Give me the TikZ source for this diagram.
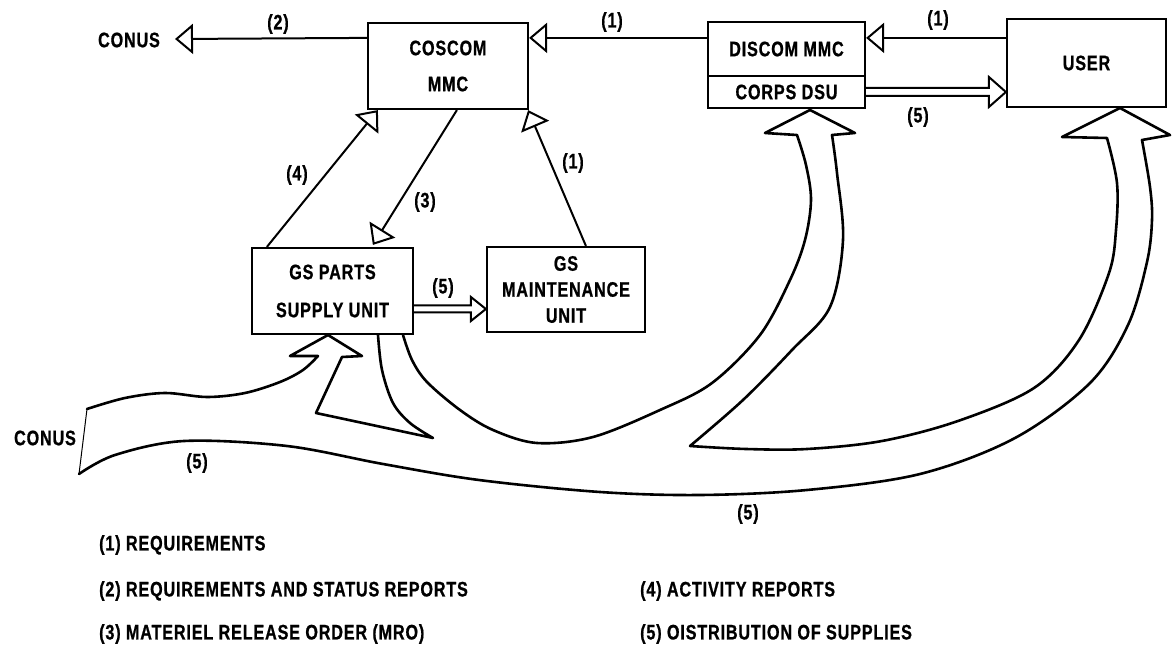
\documentclass[tikz,border=0pt]{standalone}
\usepackage{fontspec}
\newfontfamily\lbf{Liberation Sans}[FakeStretch=0.77, FakeBold=0.8, LetterSpace=4]
\usetikzlibrary{arrows.meta,calc}
\tikzset{
  txt/.style={font=\lbf\bfseries\fontsize{21}{22}\selectfont, inner sep=0pt},
  box/.style={draw, line width=2.2pt, inner sep=0pt, align=center, font=\lbf\bfseries\fontsize{21}{22}\selectfont},
  conn/.style={line width=2pt, -{Triangle[open, length=18pt, width=30pt, line width=2pt]}},
  hollow/.style={line width=2pt, line join=miter},
  band/.style={line width=2.6pt, line join=round, line cap=round},
}
\begin{document}
\begin{tikzpicture}[x=1pt,y=-1pt]
\useasboundingbox (0,0) rectangle (1173,652);
% boxes
\node[box, minimum width=160pt, minimum height=86pt] (coscom) at (448,66) {COSCOM\\[14pt]MMC};
\node[box, minimum width=157pt, minimum height=54pt] (discom) at (786.5,49) {DISCOM MMC};
\node[box, minimum width=157pt, minimum height=32pt] (corps) at (786.5,92) {CORPS DSU};
\node[box, minimum width=159pt, minimum height=88pt] (user) at (1086.5,63) {USER};
\node[box, minimum width=161pt, minimum height=86pt] (gsparts) at (332.5,291) {GS PARTS\\[16pt]SUPPLY UNIT};
\node[box, minimum width=158pt, minimum height=85pt] (gsmaint) at (566,289.5) {GS\\[4pt]MAINTENANCE\\[4pt]UNIT};
% texts
\node[txt] (conus1) at (129,40) {CONUS};
\node[txt] (conus2) at (45,438) {CONUS};
\coordinate (conustip) at (175,39);
\node[txt] (l2) at (278,24) {(2)};
\node[txt] (l1a) at (612,22) {(1)};
\node[txt] (l1b) at (938,20) {(1)};
\node[txt] (l5a) at (918,117) {(5)};
\node[txt] (l4) at (297,175) {(4)};
\node[txt] (l3) at (425,202) {(3)};
\node[txt] (l1c) at (573,163) {(1)};
\node[txt] (l5b) at (443,288) {(5)};
\node[txt] (l5c) at (197,463) {(5)};
\node[txt] (l5d) at (748,514) {(5)};
% legend
\node[txt, anchor=west] (g1) at (99,545) {(1) REQUIREMENTS};
\node[txt, anchor=west] (g2) at (99,591) {(2) REQUIREMENTS AND STATUS REPORTS};
\node[txt, anchor=west] (g3) at (99,634) {(3) MATERIEL RELEASE ORDER (MRO)};
\node[txt, anchor=west] (g4) at (640,591) {(4) ACTIVITY REPORTS};
\node[txt, anchor=west] (g5) at (640,634) {(5) OISTRIBUTION OF SUPPLIES};
% top connectors
\draw[conn] ($(coscom.north west)+(0,16)$) -- (conustip);
\draw[conn] ($(discom.north west)+(0,17)$) -- ($(coscom.north east)+(0,16)$);
\draw[conn] ($(user.north west)+(0,20)$) -- ($(discom.north east)+(0,17)$);
% middle connectors
\draw[conn] ($(gsparts.north west)+(16,0)$) -- ($(coscom.south west)+(11,0)$);
\draw[conn] ($(coscom.south west)+(90,0)$) -- ($(gsparts.north west)+(122,-2)$);
\draw[conn] ($(gsmaint.north west)+(100,0)$) -- ($(coscom.south east)+(-1,0)$);
% hollow arrows
\coordinate (ha) at (corps.east);
\coordinate (hb) at (ha -| user.west);
\draw[hollow] ($(ha)+(0,-4)$) -- ($(hb)+(-17,-4)$) -- ($(hb)+(-17,-15)$) -- (hb) -- ($(hb)+(-17,15)$) -- ($(hb)+(-17,4)$) -- ($(ha)+(0,4)$);
\coordinate (hc) at ($(gsparts.east)+(0,18)$);
\coordinate (hd) at (hc -| gsmaint.west);
\draw[hollow] ($(hc)+(0,-3.5)$) -- ($(hd)+(-15,-3.5)$) -- ($(hd)+(-15,-12)$) -- (hd) -- ($(hd)+(-15,12)$) -- ($(hd)+(-15,3.5)$) -- ($(hc)+(0,3.5)$);
% wide flow arrows
\draw[line width=1pt] (87,409) -- (79,474);
\draw[band] plot[smooth,tension=0.55] coordinates {(87,409) (125,398) (165,393) (207,397) (245,393) (280,382) (303,370) (318,356)}
  -- (290,356) -- (328,335) -- (362,356) -- (342,357) -- (316,413) -- (433,438)
  -- plot[smooth,tension=0.55] coordinates {(433,438) (410,423) (393,403) (382,370) (378,335)};
\draw[band] plot[smooth,tension=0.55] coordinates {(403,335) (412,360) (427,382) (460,410) (493,430) (537,443) (593,437) (660,410) (712,383) (760,335) (790,280) (805,240) (811,200) (806,165) (797,135)}
  -- (765,133) -- (810,110) -- (855,133) -- (832,135)
  -- plot[smooth,tension=0.55] coordinates {(832,135) (837,173) (843,240) (830,307) (792,350) (743,400) (690,446)}
  -- plot[smooth,tension=0.55] coordinates {(690,446) (746,449) (807,449) (882,441) (958,421) (1034,388) (1079,340) (1109,273) (1116,230) (1117,183) (1107,138)}
  -- (1062,137) -- (1120,108) -- (1170,135) -- (1142,140)
  -- plot[smooth,tension=0.55] coordinates {(1142,140) (1150,187) (1152,220) (1147,262) (1128,325) (1090,383) (1015,438) (920,474) (807,490) (700,495) (600,492) (479,480) (383,464) (287,446) (184,441) (115,455) (79,474)};
\end{tikzpicture}
\end{document}
